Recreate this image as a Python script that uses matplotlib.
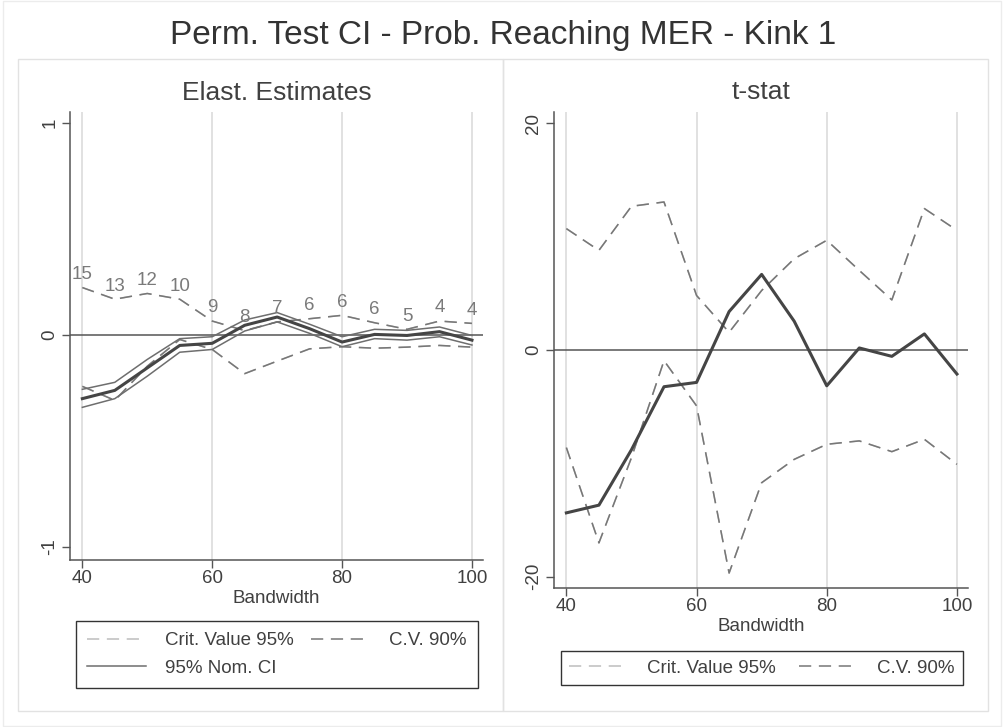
import matplotlib
matplotlib.use('Agg')
import matplotlib.pyplot as plt
from matplotlib.lines import Line2D
from matplotlib.patches import Rectangle

plt.rcParams['font.family'] = ['Liberation Sans', 'DejaVu Sans']
plt.rcParams['axes.unicode_minus'] = False

W, H = 1004, 727

# Bandwidths
bandwidth = [40, 45, 50, 55, 60, 65, 70, 75, 80, 85, 90, 95, 100]

# Left panel: elasticity estimates
est = [-0.300, -0.261, -0.155, -0.049, -0.039, 0.046, 0.085, 0.030, -0.033, 0.003, -0.002, 0.016, -0.024]
ci_upper = [-0.256, -0.223, -0.115, -0.017, -0.008, 0.071, 0.106, 0.051, -0.008, 0.027, 0.022, 0.038, -0.002]
ci_lower = [-0.341, -0.300, -0.194, -0.081, -0.068, 0.019, 0.062, 0.008, -0.055, -0.017, -0.024, -0.008, -0.047]
cv90_upper = [0.224, 0.169, 0.196, 0.169, 0.066, 0.021, 0.062, 0.077, 0.093, 0.058, 0.027, 0.066, 0.055]
cv90_lower = [-0.242, -0.308, -0.147, -0.021, -0.068, -0.182, -0.123, -0.065, -0.055, -0.062, -0.057, -0.049, -0.057]
# 95% critical values sit under the 90% ones in the picture
crit95_upper = cv90_upper
crit95_lower = cv90_lower
point_labels = ['15', '13', '12', '10', '9', '8', '7', '6', '6', '6', '5', '4', '4']

# Right panel: t-stats
tstat = [-14.37, -13.69, -8.8, -3.24, -2.86, 3.39, 6.67, 2.54, -3.16, 0.18, -0.56, 1.42, -2.12]
t_cv90_upper = [10.71, 8.79, 12.68, 13.06, 4.81, 1.56, 5.25, 8.05, 9.68, 7.02, 4.42, 12.48, 10.56]
t_cv90_lower = [-8.61, -17.02, -9.5, -0.94, -4.93, -19.68, -11.71, -9.65, -8.32, -8.02, -8.97, -7.88, -10.09]
t_crit95_upper = t_cv90_upper
t_crit95_lower = t_cv90_lower

x_ticks = [40, 60, 80, 100]

TXT = '#404040'
AX = '#555555'
GRID = '#dedede'
C95 = '#bdbdbd'
C90 = '#777777'
CI = '#6e6e6e'
EST = '#454545'
DASH = (0, (8, 5))
FS = 13.5


def fx(px):
    return px / W


def fy(py):
    return 1 - py / H


def style_axes(ax, yticks):
    for s in ['top', 'right']:
        ax.spines[s].set_visible(False)
    for s in ['left', 'bottom']:
        ax.spines[s].set_color(AX)
        ax.spines[s].set_linewidth(1.1)
    ax.set_xticks(x_ticks)
    ax.set_yticks(yticks)
    ax.set_xlim(38.1, 101.7)
    ax.tick_params(axis='both', colors=AX, labelcolor=TXT, labelsize=FS,
                   length=5.5, width=1.0)
    ax.tick_params(axis='x', pad=2)
    ax.tick_params(axis='y', pad=3, labelrotation=90)
    for lab in ax.get_yticklabels():
        lab.set_va('center')
    for xt in x_ticks:
        ax.axvline(xt, color=GRID, lw=1.3, zorder=0)
    ax.axhline(0, color=AX, lw=1.1, zorder=1)
    ax.set_xlabel('Bandwidth', fontsize=FS, color=TXT, labelpad=2)


fig = plt.figure(figsize=(W / 100, H / 100), dpi=100, facecolor='white')

# frames
fig.patches.append(Rectangle((fx(3), fy(726)), fx(998), 725 / H, transform=fig.transFigure,
                             fill=False, edgecolor='#ececec', lw=1.0))
for x0, x1 in [(18, 503), (503, 988)]:
    fig.patches.append(Rectangle((fx(x0), fy(711)), fx(x1 - x0), (711 - 59) / H,
                                 transform=fig.transFigure, fill=False,
                                 edgecolor='#e2e2e2', lw=1.0))

fig.text(fx(503), fy(44), 'Perm. Test CI - Prob. Reaching MER - Kink 1',
         fontsize=24, color='#333333', ha='center', va='baseline')

# === LEFT: elasticity estimates ===
axl = fig.add_axes([fx(70), fy(560), fx(413), 448 / H])
style_axes(axl, [-1, 0, 1])
axl.set_ylim(-1.061, 1.052)
axl.plot(bandwidth, crit95_upper, color=C95, lw=1.1, ls=DASH, zorder=2)
axl.plot(bandwidth, crit95_lower, color=C95, lw=1.1, ls=DASH, zorder=2)
axl.plot(bandwidth, cv90_upper, color=C90, lw=1.1, ls=DASH, zorder=3)
axl.plot(bandwidth, cv90_lower, color=C90, lw=1.1, ls=DASH, zorder=3)
axl.plot(bandwidth, ci_upper, color=CI, lw=1.1, zorder=4)
axl.plot(bandwidth, ci_lower, color=CI, lw=1.1, zorder=4)
axl.plot(bandwidth, est, color=EST, lw=2.2, zorder=5)
for xv, yv, lab in zip(bandwidth, cv90_upper, point_labels):
    axl.annotate(lab, (xv, yv), xytext=(0, 9.5), textcoords='offset points',
                 ha='center', va='center', fontsize=FS, color='#7a7a7a', zorder=6)
fig.text(fx(276.5), fy(100), 'Elast. Estimates', fontsize=19, color=TXT,
         ha='center', va='baseline')

# === RIGHT: t-stat ===
axr = fig.add_axes([fx(554), fy(588), fx(414), 476 / H])
style_axes(axr, [-20, 0, 20])
axr.set_ylim(-21.0, 21.0)
axr.plot(bandwidth, t_crit95_upper, color=C95, lw=1.1, ls=DASH, zorder=2)
axr.plot(bandwidth, t_crit95_lower, color=C95, lw=1.1, ls=DASH, zorder=2)
axr.plot(bandwidth, t_cv90_upper, color=C90, lw=1.1, ls=DASH, zorder=3)
axr.plot(bandwidth, t_cv90_lower, color=C90, lw=1.1, ls=DASH, zorder=3)
axr.plot(bandwidth, tstat, color=EST, lw=2.2, zorder=5)
fig.text(fx(761), fy(99), 't-stat', fontsize=19, color=TXT,
         ha='center', va='baseline')

# === LEGENDS ===
h95 = Line2D([], [], color=C95, lw=1.1, ls=DASH)
h90 = Line2D([], [], color=C90, lw=1.1, ls=DASH)
hci = Line2D([], [], color=CI, lw=1.1)

leg_kw = dict(loc='upper left', mode='expand', ncol=2, fontsize=FS, frameon=True,
              fancybox=False, framealpha=1, edgecolor='#333333', borderaxespad=0,
              handlelength=3.15, handletextpad=1.0, labelcolor=TXT)
legl = fig.legend([h95, hci, h90], ['Crit. Value 95%', '95% Nom. CI', 'C.V. 90%'],
                  bbox_to_anchor=(fx(76), fy(686), fx(402), 65 / H),
                  labelspacing=0.55, borderpad=0.6, **leg_kw)
legr = fig.legend([h95, h90], ['Crit. Value 95%', 'C.V. 90%'],
                  bbox_to_anchor=(fx(561), fy(686), fx(402), 35 / H),
                  labelspacing=0.3, borderpad=0.45, **leg_kw)
for lg in (legl, legr):
    lg.get_frame().set_linewidth(1.0)

fig.savefig('out.png', dpi=100, facecolor='white')
